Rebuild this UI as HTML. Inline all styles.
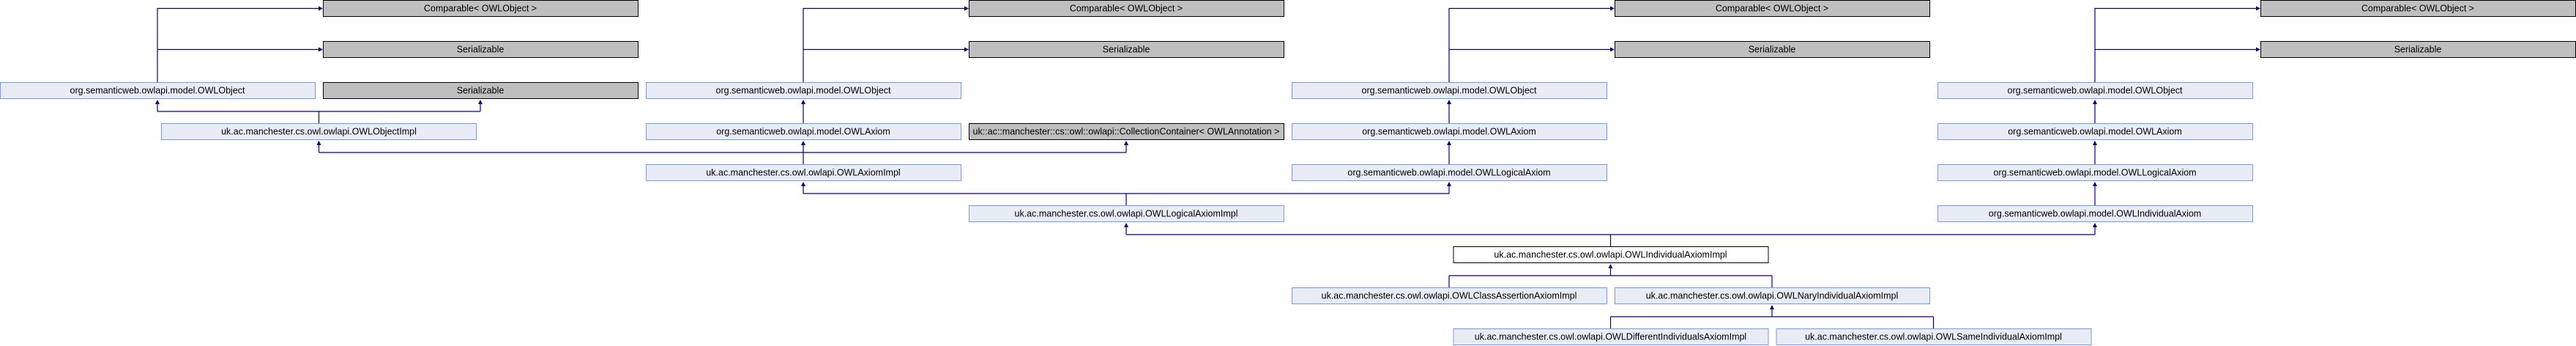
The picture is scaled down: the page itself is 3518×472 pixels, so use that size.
<!DOCTYPE html>
<html><head><meta charset="utf-8"><style>
html,body{margin:0;padding:0;background:#fff;}
svg{display:block;}
text{font-family:"Liberation Sans",sans-serif;font-size:12.5px;text-anchor:middle;fill:#000;}
.l{fill:#e8ecf5;stroke:#8498d2;stroke-width:1;}
.g{fill:#bfbfbf;stroke:#000;stroke-width:1;}
.w{fill:#fff;stroke:#000;stroke-width:1;}
.e{stroke:#000090;stroke-width:1.2;fill:none;}
.a{fill:#000090;}
</style></head><body>
<svg width="3518" height="472" viewBox="0 0 3518 472" xmlns="http://www.w3.org/2000/svg">
<g class="e">
<path d="M215 112V11.5H437M215 67.5H437"/>
<path d="M1097 112V11.5H1319M1097 67.5H1319"/>
<path d="M1979 112V11.5H2201M1979 67.5H2201"/>
<path d="M2861 112V11.5H3083M2861 67.5H3083"/>
<path d="M435.5 168V152M215 152H656M215 152V138M656 152V138"/>
<path d="M1097 224V194M435.5 208H1538M435.5 208V194M1538 208V194"/>
<path d="M1097 168V138M1979 168V138M1979 224V194M2861 168V138M2861 224V194M2861 280V250"/>
<path d="M1538 280V264M1097 264H1979M1097 264V250M1979 264V250"/>
<path d="M2199.5 336V320M1538 320H2861M1538 320V306M2861 320V306"/>
<path d="M1979 392V376M2420 392V376M1979 376H2420M2199.5 376V362"/>
<path d="M2199.5 448V432M2640.5 448V432M2199.5 432H2640.5M2420 432V418"/>
</g>
<g class="a">
<polygon points="441,11.5 435,8.5 435,14.5"/><polygon points="441,67.5 435,64.5 435,70.5"/>
<polygon points="1323,11.5 1317,8.5 1317,14.5"/><polygon points="1323,67.5 1317,64.5 1317,70.5"/>
<polygon points="2205,11.5 2199,8.5 2199,14.5"/><polygon points="2205,67.5 2199,64.5 2199,70.5"/>
<polygon points="3087,11.5 3081,8.5 3081,14.5"/><polygon points="3087,67.5 3081,64.5 3081,70.5"/>
<polygon points="215,136 212,142 218,142"/><polygon points="656,136 653,142 659,142"/>
<polygon points="435.5,192 432.5,198 438.5,198"/><polygon points="1097,192 1094,198 1100,198"/><polygon points="1538,192 1535,198 1541,198"/>
<polygon points="1097,136 1094,142 1100,142"/><polygon points="1979,136 1976,142 1982,142"/><polygon points="2861,136 2858,142 2864,142"/>
<polygon points="1979,192 1976,198 1982,198"/><polygon points="2861,192 2858,198 2864,198"/>
<polygon points="1097,248 1094,254 1100,254"/><polygon points="1979,248 1976,254 1982,254"/><polygon points="2861,248 2858,254 2864,254"/>
<polygon points="1538,304 1535,310 1541,310"/><polygon points="2861,304 2858,310 2864,310"/>
<polygon points="2199.5,360 2196.5,366 2202.5,366"/><polygon points="2420,416 2417,422 2423,422"/>
</g>
<rect class="g" x="441.5" y="0.5" width="430" height="22"/><text x="656" y="15.5">Comparable&lt; OWLObject &gt;</text>
<rect class="g" x="441.5" y="56.5" width="430" height="22"/><text x="656" y="71.5">Serializable</text>
<rect class="l" x="0.5" y="112.5" width="430" height="22"/><text x="215" y="127.5">org.semanticweb.owlapi.model.OWLObject</text>
<rect class="g" x="441.5" y="112.5" width="430" height="22"/><text x="656" y="127.5">Serializable</text>
<rect class="l" x="220.5" y="168.5" width="430" height="22"/><text x="435.5" y="183.5">uk.ac.manchester.cs.owl.owlapi.OWLObjectImpl</text>

<rect class="g" x="1323.5" y="0.5" width="430" height="22"/><text x="1538" y="15.5">Comparable&lt; OWLObject &gt;</text>
<rect class="g" x="1323.5" y="56.5" width="430" height="22"/><text x="1538" y="71.5">Serializable</text>
<rect class="l" x="882.5" y="112.5" width="430" height="22"/><text x="1097" y="127.5">org.semanticweb.owlapi.model.OWLObject</text>
<rect class="l" x="882.5" y="168.5" width="430" height="22"/><text x="1097" y="183.5">org.semanticweb.owlapi.model.OWLAxiom</text>
<rect class="g" x="1323.5" y="168.5" width="430" height="22"/><text x="1538" y="183.5">uk::ac::manchester::cs::owl::owlapi::CollectionContainer&lt; OWLAnnotation &gt;</text>
<rect class="l" x="882.5" y="224.5" width="430" height="22"/><text x="1097" y="239.5">uk.ac.manchester.cs.owl.owlapi.OWLAxiomImpl</text>
<rect class="l" x="1323.5" y="280.5" width="430" height="22"/><text x="1538" y="295.5">uk.ac.manchester.cs.owl.owlapi.OWLLogicalAxiomImpl</text>

<rect class="g" x="2205.5" y="0.5" width="430" height="22"/><text x="2420" y="15.5">Comparable&lt; OWLObject &gt;</text>
<rect class="g" x="2205.5" y="56.5" width="430" height="22"/><text x="2420" y="71.5">Serializable</text>
<rect class="l" x="1764.5" y="112.5" width="430" height="22"/><text x="1979" y="127.5">org.semanticweb.owlapi.model.OWLObject</text>
<rect class="l" x="1764.5" y="168.5" width="430" height="22"/><text x="1979" y="183.5">org.semanticweb.owlapi.model.OWLAxiom</text>
<rect class="l" x="1764.5" y="224.5" width="430" height="22"/><text x="1979" y="239.5">org.semanticweb.owlapi.model.OWLLogicalAxiom</text>

<rect class="g" x="3087.5" y="0.5" width="430" height="22"/><text x="3302" y="15.5">Comparable&lt; OWLObject &gt;</text>
<rect class="g" x="3087.5" y="56.5" width="430" height="22"/><text x="3302" y="71.5">Serializable</text>
<rect class="l" x="2646.5" y="112.5" width="430" height="22"/><text x="2861" y="127.5">org.semanticweb.owlapi.model.OWLObject</text>
<rect class="l" x="2646.5" y="168.5" width="430" height="22"/><text x="2861" y="183.5">org.semanticweb.owlapi.model.OWLAxiom</text>
<rect class="l" x="2646.5" y="224.5" width="430" height="22"/><text x="2861" y="239.5">org.semanticweb.owlapi.model.OWLLogicalAxiom</text>
<rect class="l" x="2646.5" y="280.5" width="430" height="22"/><text x="2861" y="295.5">org.semanticweb.owlapi.model.OWLIndividualAxiom</text>

<rect class="w" x="1985" y="336.5" width="430" height="22"/><text x="2199.5" y="351.5">uk.ac.manchester.cs.owl.owlapi.OWLIndividualAxiomImpl</text>
<rect class="l" x="1764.5" y="392.5" width="430" height="22"/><text x="1979" y="407.5">uk.ac.manchester.cs.owl.owlapi.OWLClassAssertionAxiomImpl</text>
<rect class="l" x="2205.5" y="392.5" width="430" height="22"/><text x="2420" y="407.5">uk.ac.manchester.cs.owl.owlapi.OWLNaryIndividualAxiomImpl</text>
<rect class="l" x="1985" y="448.5" width="430" height="22"/><text x="2199.5" y="463.5">uk.ac.manchester.cs.owl.owlapi.OWLDifferentIndividualsAxiomImpl</text>
<rect class="l" x="2426" y="448.5" width="430" height="22"/><text x="2640.5" y="463.5">uk.ac.manchester.cs.owl.owlapi.OWLSameIndividualAxiomImpl</text>
</svg>
</body></html>
